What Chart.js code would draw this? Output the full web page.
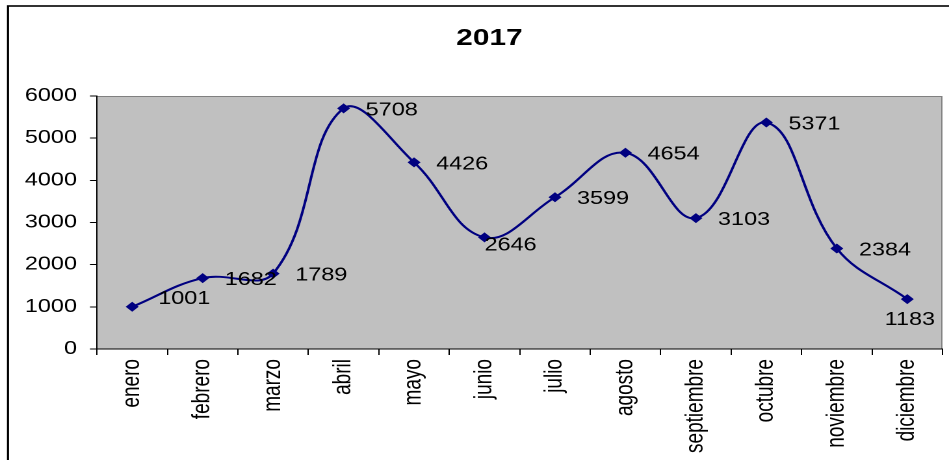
<!DOCTYPE html>
<html>
<head>
<meta charset="utf-8">
<script src="https://cdn.jsdelivr.net/npm/chart.js@4"></script>
<style>
html,body{margin:0;padding:0;background:#fff;overflow:hidden;}
#c{display:block;}
</style>
</head>
<body>
<canvas id="c" width="730" height="460" style="width:949px;height:460px;"></canvas>
<script>
const chartTitle = '2017';
const months = ['enero','febrero','marzo','abril','mayo','junio','julio','agosto','septiembre','octubre','noviembre','diciembre'];
const values = [1001, 1682, 1789, 5708, 4426, 2646, 3599, 4654, 3103, 5371, 2384, 1183];
const yTicks = [0, 1000, 2000, 3000, 4000, 5000, 6000];
const labelPlacement = ['upRight','right','right','right','right','belowRight','right','right','right','right','right','below'];

const FONT = '"Liberation Sans", Arial, Helvetica, sans-serif';
const SX = 949 / 730;

const frame = {
  id: 'frame',
  afterLayout(chart) {
    if (chart.titleBlock) { chart.titleBlock.left += 17.6; }
  },
  beforeDraw(chart) {
    const {ctx, chartArea: a} = chart;
    ctx.save();
    ctx.fillStyle = '#c0c0c0';
    ctx.fillRect(a.left, a.top, a.right - a.left, a.bottom - a.top);
    ctx.strokeStyle = '#808080';
    ctx.lineWidth = 1;
    ctx.beginPath();
    ctx.moveTo(a.left, a.top + 0.5);
    ctx.lineTo(a.right - 0.5, a.top + 0.5);
    ctx.lineTo(a.right - 0.5, a.bottom);
    ctx.stroke();
    ctx.strokeStyle = '#000';
    ctx.lineWidth = 1.6;
    ctx.strokeRect(8 / SX, 6, 1000, 1000);
    ctx.restore();
  }
};

const valueLabels = {
  id: 'valueLabels',
  afterDatasetsDraw(chart) {
    const ctx = chart.ctx;
    const meta = chart.getDatasetMeta(0);
    ctx.save();
    ctx.font = '18px ' + FONT;
    ctx.fillStyle = '#000';
    ctx.textBaseline = 'middle';
    meta.data.forEach((pt, i) => {
      const txt = String(values[i]);
      const p = labelPlacement[i];
      let x = pt.x, y = pt.y, align = 'left';
      if (p === 'right') { x += 17; y += 2; }
      else if (p === 'upRight') { x += 20; y -= 8; }
      else if (p === 'belowRight') { x += 0; y += 8; }
      else if (p === 'below') { align = 'center'; x += 2; y += 21; }
      ctx.textAlign = align;
      ctx.fillText(txt, x, y);
    });
    ctx.restore();
  }
};

new Chart(document.getElementById('c'), {
  type: 'line',
  data: {
    labels: months,
    datasets: [{
      data: values,
      borderColor: '#000080',
      backgroundColor: '#000080',
      borderWidth: 2,
      tension: 0.4,
      fill: false,
      pointStyle: 'rectRot',
      pointRadius: 5,
      pointHoverRadius: 5,
      pointBackgroundColor: '#000080',
      pointBorderColor: '#000080',
      pointBorderWidth: 0
    }]
  },
  options: {
    responsive: false,
    animation: false,
    devicePixelRatio: 2,
    events: [],
    layout: { padding: { left: 10, right: 4.6, top: 0, bottom: 0 } },
    plugins: {
      legend: { display: false },
      tooltip: { enabled: false },
      title: {
        display: true,
        text: chartTitle,
        color: '#000',
        font: { family: FONT, size: 23, weight: 'bold' },
        padding: { top: 25, bottom: 43.4 }
      }
    },
    scales: {
      x: {
        offset: true,
        grid: { offset: true, display: true, drawOnChartArea: false, drawTicks: true, tickLength: 6, color: '#000', lineWidth: 1 },
        border: { display: true, color: '#000', width: 1 },
        ticks: { autoSkip: false, maxRotation: 90, minRotation: 90, padding: 4, color: '#000', font: { family: FONT, size: 19 } },
        afterFit(s) { s.height = 111; }
      },
      y: {
        min: 0,
        max: 6000,
        grid: { drawOnChartArea: false, drawTicks: true, tickLength: 5.4, color: '#000', lineWidth: 1 },
        border: { display: true, color: '#000', width: 1 },
        ticks: { padding: 10, color: '#000', font: { family: FONT, size: 18 }, callback: v => String(v) },
        afterBuildTicks(s) { s.ticks = yTicks.map(v => ({ value: v })); },
        afterFit(s) { s.width = 64.6; }
      }
    }
  },
  plugins: [frame, valueLabels]
});
</script>
</body>
</html>
